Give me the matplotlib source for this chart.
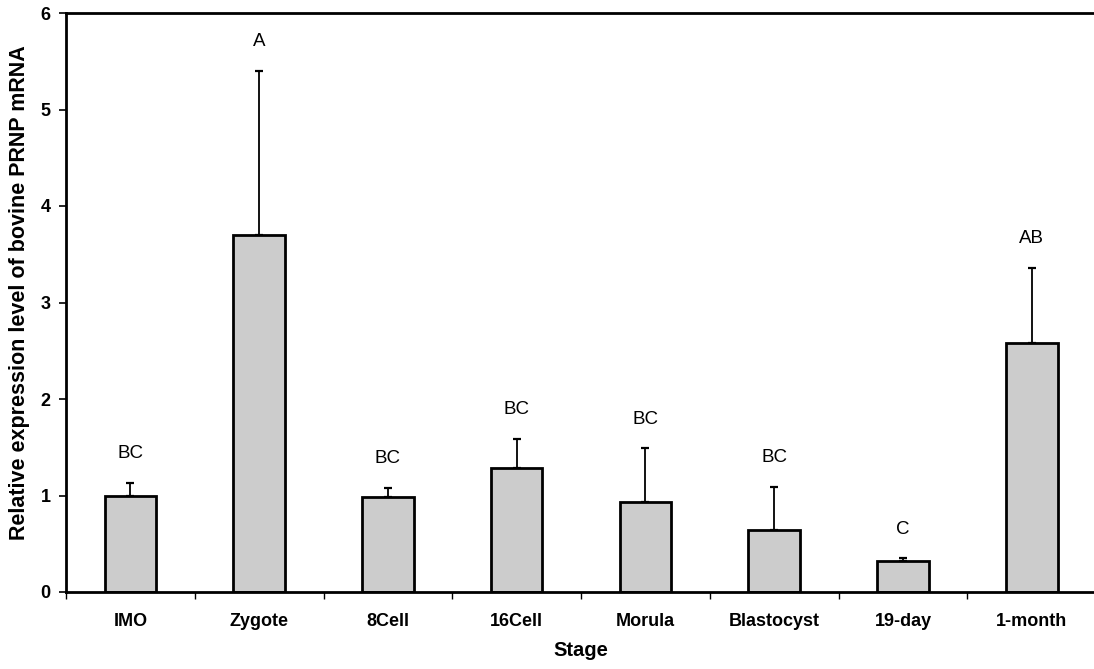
import matplotlib
matplotlib.use("Agg")
import matplotlib.pyplot as plt
import numpy as np

stages = ["IMO", "Zygote", "8Cell", "16Cell", "Morula", "Blastocyst", "19-day", "1-month"]
means = [0.99, 3.70, 0.98, 1.29, 0.93, 0.64, 0.32, 2.58]
err_top = [1.13, 5.40, 1.08, 1.59, 1.49, 1.09, 0.35, 3.36]
letters = ["BC", "A", "BC", "BC", "BC", "BC", "C", "AB"]
yticks = [0, 1, 2, 3, 4, 5, 6]

plt.rcParams['font.family'] = ['Liberation Sans', 'DejaVu Sans']

fig = plt.figure(figsize=(10.94, 6.69), dpi=100)
ax = fig.add_axes([66/1094, 1-592/669, 1.002-66/1094, (592-13)/669])

x = np.arange(len(stages))
errs = np.array(err_top) - np.array(means)
ax.bar(x, means, width=0.4, color="#cccccc", edgecolor="black", linewidth=2, zorder=2)
ax.errorbar(x, means, yerr=[np.zeros_like(errs), errs], fmt="none", ecolor="black",
            elinewidth=1.3, capsize=3, capthick=1.6, zorder=1)
for xi, t, lab in zip(x, err_top, letters):
    ax.annotate(lab, (xi, t), xytext=(0, 21), textcoords="offset points",
                ha="center", va="center", fontsize=13.5)

ax.set_xlim(-0.5, len(stages) - 0.5)
ax.set_ylim(0, 6)
ax.set_yticks(yticks)
ax.set_yticklabels([str(v) for v in yticks], fontsize=13, fontweight="bold")
ax.set_xticks(x)
ax.set_xticklabels(stages, fontsize=13, fontweight="bold")
ax.tick_params(axis="x", which="major", length=0, pad=15)
ax.set_xticks(np.arange(-0.5, len(stages), 1.0), minor=True)
ax.tick_params(axis="x", which="minor", direction="out", length=5, width=1)
ax.tick_params(axis="y", direction="out", length=5, width=1.2, pad=6)

ax.spines["right"].set_visible(False)
for s in ["left", "bottom", "top"]:
    ax.spines[s].set_linewidth(2)

ax.set_xlabel("Stage", fontsize=14.5, fontweight="bold", labelpad=8)
ax.set_ylabel("Relative expression level of bovine PRNP mRNA", fontsize=15.5,
              fontweight="bold")
ax.yaxis.set_label_coords(-36/1028, 0.517)

fig.savefig("out.png", dpi=100)
